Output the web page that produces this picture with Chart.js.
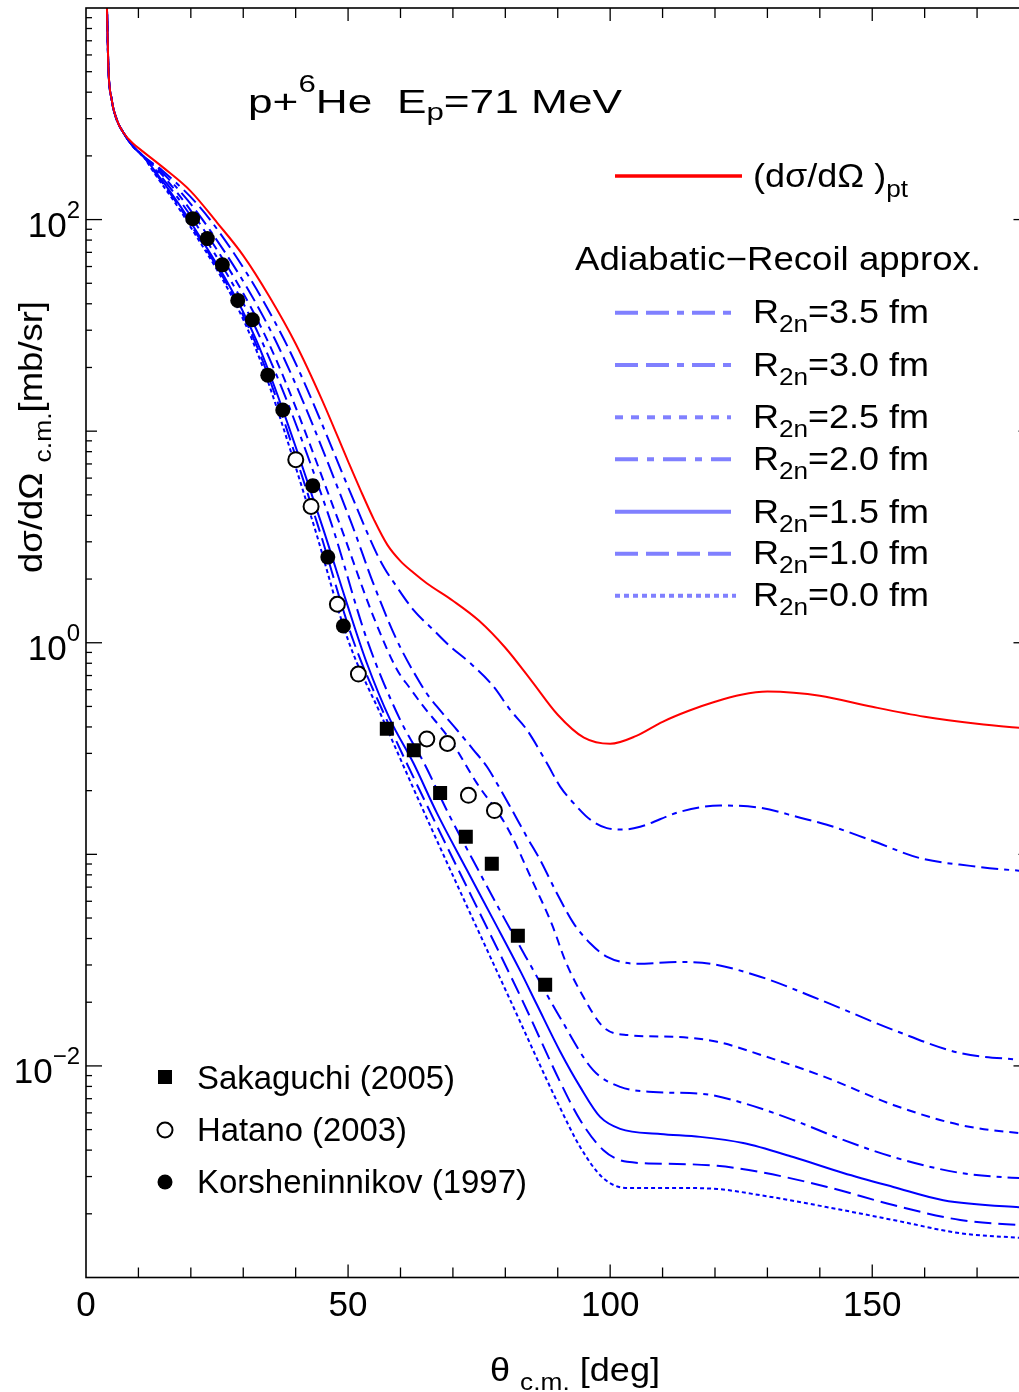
<!DOCTYPE html>
<html>
<head>
<meta charset="utf-8">
<title>p+6He Ep=71 MeV</title>
<script src="https://cdn.jsdelivr.net/npm/chart.js@4.4.1/dist/chart.umd.min.js"></script>
<style>
  html, body { margin: 0; padding: 0; background: #fff; overflow: hidden; }
  #plot { display: block; }
</style>
</head>
<body>
<canvas id="plot" width="1019" height="1392"></canvas>
<script>
// p + 6He elastic scattering at Ep = 71 MeV
// curves: point-nucleus cross section + adiabatic-recoil approximation for several R_2n

// ===== data: angle (deg, c.m.) / cross section (mb/sr) =====
const thetaPt = [3.9, 4.0, 4.26, 4.9, 5.86, 7.12, 8.97, 10.94, 14.75, 20, 25, 30, 35, 40, 45, 50, 52.5, 55, 57.5, 60, 62.5, 65, 70, 75, 80, 85, 90, 95, 100, 105, 110, 115, 120, 125, 130, 135, 140, 150, 160, 170, 180];
const sigmaPt = [1200, 1000, 531, 369, 297, 258, 229, 209, 176, 136, 96.8, 67.6, 43.2, 25.9, 14.1, 7.2, 5.18, 3.79, 2.90, 2.43, 2.14, 1.91, 1.58, 1.27, 0.947, 0.661, 0.457, 0.356, 0.333, 0.363, 0.423, 0.477, 0.526, 0.568, 0.588, 0.581, 0.562, 0.498, 0.447, 0.414, 0.392];

const theta35 = [3.9, 4.0, 4.26, 4.9, 5.86, 7.12, 8.97, 10.94, 14.41, 23.66, 37.79, 51.01, 53.3, 55.48, 57.0, 58.65, 62.46, 66.28, 69.47, 73.28, 77.73, 80.92, 84.1, 87.92, 90.46, 93.65, 96.18, 99.37, 102.54, 105.73, 113.36, 120.99, 128.63, 136.26, 141.35, 149.62, 159.16, 168.7, 178.05, 180];
const sigma35 = [1200, 1000, 531, 369, 297, 258, 222, 199, 172, 100, 27.1, 4.75, 3.47, 2.63, 2.24, 1.94, 1.43, 1.15, 0.961, 0.802, 0.622, 0.482, 0.388, 0.27, 0.209, 0.168, 0.146, 0.133, 0.131, 0.135, 0.159, 0.170, 0.166, 0.149, 0.138, 0.117, 0.0959, 0.0882, 0.0837, 0.0832];

const theta30 = [3.9, 4.0, 4.26, 4.9, 5.86, 7.12, 8.97, 10.94, 14.03, 22.23, 36.07, 50.38, 54.77, 59.29, 63.74, 65.3, 66.93, 70.74, 73.91, 76.47, 78.38, 80.92, 84.1, 86.64, 89.83, 93.0, 96.18, 99.43, 105.15, 113.36, 119.08, 128.63, 141.41, 154.01, 166.79, 178.05, 180];
const sigma30 = [1200, 1000, 531, 369, 297, 258, 222, 199, 172, 100, 27.1, 3.82, 1.92, 1.03, 0.645, 0.562, 0.50, 0.388, 0.312, 0.26, 0.217, 0.168, 0.121, 0.0942, 0.0655, 0.0473, 0.038, 0.0328, 0.0304, 0.031, 0.0304, 0.0264, 0.0199, 0.0148, 0.0115, 0.0107, 0.0106];

const theta25 = [3.9, 4.0, 4.26, 4.9, 5.86, 7.12, 8.97, 10.94, 13.65, 21.18, 34.54, 48.09, 54.83, 59.29, 61.8, 64.37, 69.47, 74.56, 80.29, 85.36, 88.93, 91.6, 94.66, 98.66, 103.24, 112.79, 120.42, 128.63, 141.41, 154.01, 166.79, 178.05, 180];
const sigma25 = [1200, 1000, 531, 369, 297, 258, 222, 199, 172, 100, 27.1, 3.82, 1.33, 0.75, 0.61, 0.50, 0.348, 0.217, 0.135, 0.0731, 0.0464, 0.0307, 0.0217, 0.0153, 0.0140, 0.0137, 0.0130, 0.0113, 0.00878, 0.00654, 0.00526, 0.00482, 0.0048];

const theta20 = [3.9, 4.0, 4.26, 4.9, 5.86, 7.12, 8.97, 10.94, 13.26, 20.42, 33.4, 46.56, 53.63, 59.92, 64.5, 69.08, 74.81, 79.96, 85.11, 90.46, 96.76, 101.91, 108.21, 117.75, 125.38, 134.92, 144.47, 154.01, 166.79, 178.05, 180];
const sigma20 = [1200, 1000, 531, 369, 297, 258, 222, 199, 172, 100, 27.1, 3.82, 1.03, 0.433, 0.27, 0.157, 0.0845, 0.049, 0.029, 0.0169, 0.00955, 0.00796, 0.00753, 0.00737, 0.00668, 0.00555, 0.00447, 0.00371, 0.00312, 0.00295, 0.00294];

const theta15 = [3.9, 4.0, 4.26, 4.9, 5.86, 7.12, 8.97, 10.94, 12.98, 19.66, 32.44, 44.66, 49.75, 53.57, 58.02, 62.46, 66.93, 72.65, 77.73, 82.82, 86.01, 90.46, 94.27, 98.09, 101.91, 109.54, 117.18, 125.38, 134.92, 144.47, 154.01, 163.55, 178.05, 180];
const sigma15 = [1200, 1000, 531, 369, 297, 258, 222, 199, 172, 100, 27.1, 3.82, 1.54, 0.802, 0.433, 0.27, 0.157, 0.0845, 0.049, 0.0282, 0.0195, 0.0117, 0.00796, 0.00574, 0.00504, 0.00477, 0.00462, 0.00432, 0.00371, 0.00312, 0.00268, 0.00232, 0.00215, 0.00214];

const theta10 = [3.9, 4.0, 4.26, 4.9, 5.86, 7.12, 8.97, 10.94, 12.79, 19.39, 32.06, 43.89, 50.95, 57.35, 65.27, 83.21, 90.46, 94.27, 98.66, 103.24, 112.79, 120.42, 128.63, 141.41, 154.01, 166.79, 178.05, 180];
const sigma10 = [1200, 1000, 531, 369, 297, 258, 222, 199, 172, 100, 27.1, 3.82, 1.03, 0.433, 0.166, 0.0205, 0.0084, 0.00555, 0.00401, 0.00352, 0.00344, 0.00337, 0.00315, 0.00268, 0.0022, 0.00187, 0.00177, 0.00176];

const theta00 = [3.9, 4.0, 4.26, 4.9, 5.86, 7.12, 8.97, 10.94, 12.6, 19.08, 31.68, 43.13, 50.0, 56.68, 64.12, 80.92, 90.46, 94.27, 98.66, 103.24, 112.79, 120.42, 128.63, 141.41, 154.01, 166.79, 178.05, 180];
const sigma00 = [1200, 1000, 531, 369, 297, 258, 222, 199, 172, 100, 27.1, 3.82, 1.03, 0.433, 0.166, 0.0205, 0.00633, 0.00414, 0.00295, 0.00265, 0.00265, 0.00262, 0.00245, 0.00215, 0.00187, 0.00162, 0.00154, 0.00153];

// experiments
const thetaSakaguchi = [57.39, 62.54, 67.56, 72.46, 77.42, 82.39, 87.6];
const sigmaSakaguchi = [0.392, 0.310, 0.195, 0.121, 0.0902, 0.0412, 0.0242];
const thetaHatano = [40.02, 42.94, 47.96, 51.97, 65.02, 68.95, 72.96, 77.92];
const sigmaHatano = [7.33, 4.41, 1.52, 0.711, 0.351, 0.334, 0.190, 0.161];
const thetaKorsh = [20.36, 23.15, 26.01, 28.95, 31.74, 34.68, 37.54, 43.26, 46.13, 49.1];
const sigmaKorsh = [101, 81.3, 61.1, 41.5, 33.6, 18.4, 12.6, 5.52, 2.54, 1.20];

// legend labels / ticks
const RADII = ["3.5", "3.0", "2.5", "2.0", "1.5", "1.0", "0.0"];
const EXPERIMENTS = ["Sakaguchi (2005)", "Hatano (2003)", "Korsheninnikov (1997)"];
const X_TICK_LABELS = [0, 50, 100, 150];
const Y_TICK_EXPONENTS = [-2, 0, 2];

// ===== styles =====
const FONT = '"Liberation Sans", Arial, Helvetica, sans-serif';
const BLUE = "#0000ff";
const LEGEND_BLUE = "#8080ff";
const PLOT_DASH = {
  "3.5": [17, 6, 17, 6, 5, 6], "3.0": [17, 6, 17, 6, 5, 6], "2.5": [9, 6],
  "2.0": [17, 6, 5, 6], "1.5": [], "1.0": [17, 7], "0.0": [4, 3],
};
const LEGEND_DASH = {
  "3.5": [23, 8, 23, 8, 7, 8], "3.0": [23, 8, 23, 8, 7, 8], "2.5": [8, 8],
  "2.0": [23, 9, 7, 9], "1.5": [], "1.0": [23, 8], "0.0": [5, 4],
};
const LEGEND_LINE_Y = [312.7, 365, 417.3, 459.3, 511.7, 553.7, 595.7];
const LEGEND_TEXT_Y = [322.5, 375.5, 427.5, 469.5, 522.5, 563.5, 605.5];

const pts = (xs, ys) => xs.map((x, i) => ({ x, y: ys[i] }));

function curve(label, xs, ys, color, dash) {
  return {
    type: "line", label, data: pts(xs, ys),
    borderColor: color, borderWidth: 2, borderDash: dash,
    pointRadius: 0, fill: false, cubicInterpolationMode: "monotone",
    clip: 0, order: 2,
  };
}

// ===== text helper: parts = [text, size, dy] =====
function richText(ctx, parts, x, y, o = {}) {
  ctx.save();
  let natural = 0;
  for (const [t, size] of parts) {
    ctx.font = `${size}px ${FONT}`;
    natural += ctx.measureText(t).width;
  }
  const sx = o.width ? o.width / natural : 1;
  const w = natural * sx;
  ctx.translate(x, y);
  if (o.rotate) ctx.rotate(-Math.PI / 2);
  if (o.align === "right") ctx.translate(-w, 0);
  else if (o.align === "center") ctx.translate(-w / 2, 0);
  ctx.scale(sx, 1);
  ctx.fillStyle = "#000";
  ctx.textAlign = "left";
  ctx.textBaseline = "alphabetic";
  let cx = 0;
  for (const [t, size, dy = 0] of parts) {
    ctx.font = `${size}px ${FONT}`;
    ctx.fillText(t, cx, dy);
    cx += ctx.measureText(t).width;
  }
  ctx.restore();
}

function line(ctx, x1, y1, x2, y2) {
  ctx.beginPath();
  ctx.moveTo(x1, y1);
  ctx.lineTo(x2, y2);
  ctx.stroke();
}

// ===== frame, ticks, legends, labels =====
const decorations = {
  id: "decorations",
  afterDraw(chart) {
    const { ctx, chartArea: a } = chart;
    const xs = chart.scales.x, ys = chart.scales.y;
    const right = xs.getPixelForValue(180);
    ctx.save();
    ctx.strokeStyle = "#000";
    ctx.lineCap = "butt";

    // frame
    ctx.lineWidth = 1.6;
    ctx.strokeRect(a.left, a.top, right - a.left, a.bottom - a.top);

    // x ticks (bottom and top, inward)
    ctx.lineWidth = 1.3;
    for (let v = 10; v < 180; v += 10) {
      const px = xs.getPixelForValue(v);
      const len = v % 50 === 0 ? 13 : 10;
      line(ctx, px, a.bottom, px, a.bottom - len);
      line(ctx, px, a.top, px, a.top + len);
    }
    // y ticks (left and right, inward)
    for (let e = -3; e <= 3; e++) {
      for (let m = 1; m <= 9; m++) {
        const v = m * Math.pow(10, e);
        if (v > 1000) break;
        const py = ys.getPixelForValue(v);
        if (py < a.top + 1 || py > a.bottom - 1) continue;
        const len = m === 1 ? (e % 2 === 0 ? 16 : 11) : 6;
        line(ctx, a.left, py, a.left + len, py);
        line(ctx, right, py, right - len, py);
      }
    }

    // tick labels
    for (const v of X_TICK_LABELS) {
      richText(ctx, [[String(v), 35]], xs.getPixelForValue(v), 1316, { align: "center" });
    }
    for (const e of Y_TICK_EXPONENTS) {
      const py = ys.getPixelForValue(Math.pow(10, e));
      const sup = e < 0 ? "\u2212" + (-e) : String(e);
      richText(ctx, [["10", 35], [sup, 24, -19]], 80, py + 17, { align: "right" });
    }

    // axis titles
    richText(ctx, [["\u03b8 ", 33], ["c.m.", 24, 9], [" [deg]", 33]], 490, 1381, { width: 170 });
    richText(ctx, [["d\u03c3/d\u03a9 ", 33], ["c.m.", 24, 9], ["[mb/sr]", 33]], 42, 573, { width: 272, rotate: true });

    // title
    richText(ctx, [["p+", 34], ["6", 24, -21], ["He  E", 34], ["p", 24, 7], ["=71 MeV", 34]], 248, 113, { width: 374 });

    // curve legend
    ctx.strokeStyle = "#ff0000";
    ctx.lineWidth = 3.3;
    line(ctx, 615, 176, 742, 176);
    richText(ctx, [["(d\u03c3/d\u03a9 )", 33], ["pt", 24, 10]], 753, 187, { width: 155 });
    richText(ctx, [["Adiabatic\u2212Recoil approx.", 33]], 575, 270, { width: 406 });
    ctx.strokeStyle = LEGEND_BLUE;
    ctx.lineWidth = 4;
    RADII.forEach((r, i) => {
      ctx.setLineDash(LEGEND_DASH[r]);
      line(ctx, 615, LEGEND_LINE_Y[i], r === "0.0" ? 736 : 731, LEGEND_LINE_Y[i]);
      ctx.setLineDash([]);
      richText(ctx, [["R", 33], ["2n", 24, 9], [`=${r} fm`, 33]], 753, LEGEND_TEXT_Y[i], { width: 176 });
    });

    // data legend
    ctx.fillStyle = "#000";
    ctx.fillRect(158, 1070, 14, 14);
    ctx.beginPath();
    ctx.arc(165, 1130, 7.5, 0, Math.PI * 2);
    ctx.fillStyle = "#fff";
    ctx.fill();
    ctx.strokeStyle = "#000";
    ctx.lineWidth = 2;
    ctx.stroke();
    ctx.beginPath();
    ctx.arc(165, 1182, 7.5, 0, Math.PI * 2);
    ctx.fillStyle = "#000";
    ctx.fill();
    richText(ctx, [[EXPERIMENTS[0], 33]], 197, 1089, { width: 258 });
    richText(ctx, [[EXPERIMENTS[1], 33]], 197, 1141, { width: 210 });
    richText(ctx, [[EXPERIMENTS[2], 33]], 197, 1193, { width: 330 });

    ctx.restore();
  },
};

// ===== chart =====
const curveSets = [
  [theta35, sigma35], [theta30, sigma30], [theta25, sigma25], [theta20, sigma20],
  [theta15, sigma15], [theta10, sigma10], [theta00, sigma00],
];

const datasets = [
  {
    type: "scatter", label: EXPERIMENTS[0], data: pts(thetaSakaguchi, sigmaSakaguchi),
    pointStyle: "rect", pointRadius: 9.9, backgroundColor: "#000", borderWidth: 0, order: 0,
  },
  {
    type: "scatter", label: EXPERIMENTS[1], data: pts(thetaHatano, sigmaHatano),
    pointStyle: "circle", pointRadius: 7.5, backgroundColor: "#fff", borderColor: "#000", borderWidth: 2, order: 0,
  },
  {
    type: "scatter", label: EXPERIMENTS[2], data: pts(thetaKorsh, sigmaKorsh),
    pointStyle: "circle", pointRadius: 7.5, backgroundColor: "#000", borderWidth: 0, order: 0,
  },
  curve("(d\u03c3/d\u03a9)pt", thetaPt, sigmaPt, "#ff0000", []),
  ...RADII.map((r, i) => curve(`R2n=${r} fm`, curveSets[i][0], curveSets[i][1], BLUE, PLOT_DASH[r])),
];

new Chart(document.getElementById("plot"), {
  data: { datasets },
  options: {
    responsive: false,
    animation: false,
    devicePixelRatio: 1,
    layout: { autoPadding: false, padding: { left: 86, top: 8, right: 0, bottom: 114.5 } },
    scales: {
      x: { type: "linear", min: 0, max: 178, display: false },
      y: { type: "logarithmic", min: 0.001, max: 1000, display: false },
    },
    plugins: { legend: { display: false }, tooltip: { enabled: false } },
    elements: { line: { tension: 0 } },
  },
  plugins: [decorations],
});
</script>
</body>
</html>
